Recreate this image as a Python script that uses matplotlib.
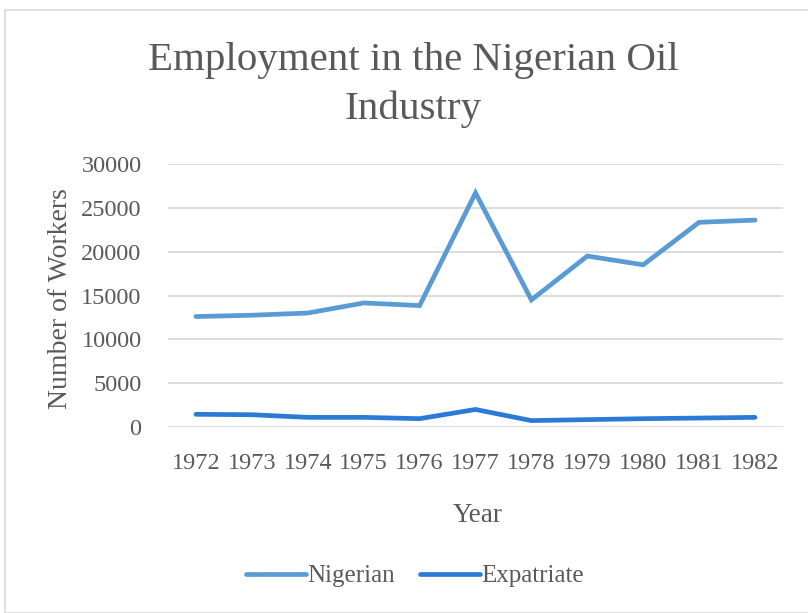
import matplotlib
matplotlib.use("Agg")
import matplotlib.pyplot as plt
from matplotlib.patches import Rectangle
import numpy as np

plt.rcParams["font.family"] = ["Liberation Serif", "DejaVu Serif"]

years = ["1972", "1973", "1974", "1975", "1976", "1977",
         "1978", "1979", "1980", "1981", "1982"]
nigerian = [12600, 12750, 13000, 14150, 13850, 26700,
            14500, 19500, 18500, 23350, 23600]
expatriate = [1450, 1400, 1100, 1100, 950, 2000,
              730, 840, 950, 1020, 1100]
y_ticks = [0, 5000, 10000, 15000, 20000, 25000, 30000]

text_color = "#595959"
grid_color = "#d9d9d9"
nig_color = "#5b9bd5"
exp_color = "#2b7bd6"

W, H = 808, 613
fig = plt.figure(figsize=(W / 100, H / 100), dpi=100)

# chart frame (only left/top edges visible in the crop)
fig.patches.append(Rectangle((5 / W, 0), 2, 1 - 10 / H, transform=fig.transFigure,
                             fill=False, edgecolor=grid_color, linewidth=1.2))

left, right, top, bottom = 168, 783, 164, 427
ax = fig.add_axes([left / W, 1 - bottom / H, (right - left) / W, (bottom - top) / H])

x = np.arange(len(years))
ax.plot(x, nigerian, color=nig_color, linewidth=3.4, solid_capstyle="round",
        solid_joinstyle="miter", label="Nigerian", zorder=3)
ax.plot(x, expatriate, color=exp_color, linewidth=3.4, solid_capstyle="round",
        solid_joinstyle="miter", label="Expatriate", zorder=3)

ax.set_xlim(-0.5, len(years) - 0.5)
ax.set_ylim(0, 30000)
ax.set_xticks(x, years)
ax.set_yticks(y_ticks, [str(v) for v in y_ticks])
ax.grid(axis="y", color=grid_color, linewidth=1.3)
ax.set_axisbelow(True)
for s in ax.spines.values():
    s.set_visible(False)
ax.tick_params(length=0, labelsize=17.5, colors=text_color)
ax.tick_params(axis="x", pad=19)
ax.tick_params(axis="y", pad=19)

ax.set_xlabel("Year", fontsize=19.5, color=text_color)
ax.xaxis.set_label_coords(0.504, -0.29)
ax.set_ylabel("Number of Workers", fontsize=20, color=text_color)
ax.yaxis.set_label_coords(-0.155, 0.49)

fig.text(413 / W, 1 - 85 / H, "Employment in the Nigerian Oil\nIndustry",
         ha="center", va="center", fontsize=29.5, color=text_color, linespacing=1.42)

leg = fig.legend(loc="center", bbox_to_anchor=(415 / W, 1 - 576 / H), ncol=2,
                 frameon=False, fontsize=18, handlelength=2.4, handletextpad=0.05,
                 columnspacing=1.0)
for t in leg.get_texts():
    t.set_color(text_color)

fig.savefig("out.png", dpi=100)
